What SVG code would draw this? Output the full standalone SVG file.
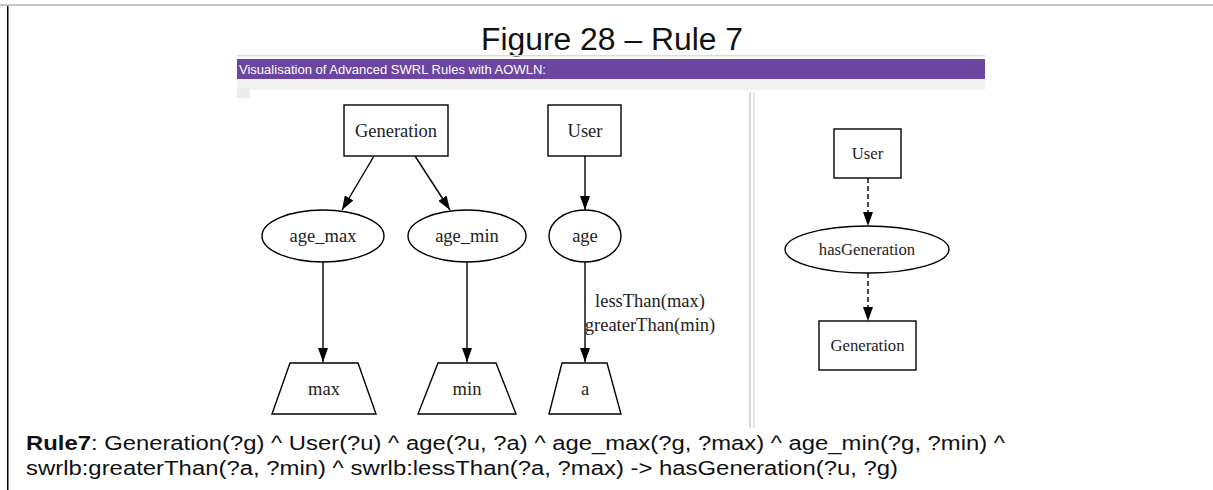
<svg xmlns="http://www.w3.org/2000/svg" width="1213" height="490" viewBox="0 0 1213 490">
  <style>
    .node { fill: #ffffff; stroke: #000000; stroke-width: 1.4; }
    .lbl { font-family: "Liberation Serif", "Times New Roman", serif; font-size: 18.5px; fill: #222222; text-anchor: middle; }
    .lbl-s { font-family: "Liberation Serif", "Times New Roman", serif; font-size: 16.7px; fill: #222222; text-anchor: middle; }
    .edge { fill: none; stroke: #000000; stroke-width: 1.4; marker-end: url(#arrow); }
    .dashed { stroke-dasharray: 5 3; }
    .sans { font-family: "Liberation Sans", Arial, sans-serif; fill: #111111; }
  </style>
  <defs>
    <marker id="arrow" markerUnits="userSpaceOnUse" markerWidth="14" markerHeight="10" refX="14" refY="5" orient="auto">
      <path d="M0,0 L14,5 L0,10 Z" fill="#000000"/>
    </marker>
  </defs>

  <!-- page frame -->
  <rect x="0" y="0" width="1213" height="490" fill="#ffffff"/>
  <rect x="0" y="4" width="1213" height="2" fill="#c4c4c4"/>
  <rect x="7" y="6" width="1.5" height="484" fill="#000000"/>

  <!-- caption -->
  <text class="sans" x="612" y="50" font-size="31" text-anchor="middle" textLength="262" lengthAdjust="spacingAndGlyphs">Figure 28 – Rule 7</text>

  <!-- application window -->
  <rect x="237" y="55" width="748" height="1.5" fill="#dcdcdc"/>
  <rect x="237" y="59" width="748" height="20" fill="#6b45a0"/>
  <text x="239" y="74" font-family="Liberation Sans, Arial, sans-serif" font-size="12.5" fill="#ffffff" textLength="307" lengthAdjust="spacingAndGlyphs">Visualisation of Advanced SWRL Rules with AOWLN:</text>
  <rect x="237" y="79" width="748" height="11" fill="#f4f2f0"/>
  <rect x="237" y="88" width="13" height="10" fill="#ececec"/>
  <rect x="749" y="92" width="2" height="336" fill="#d8d8d8"/>
  <rect x="753" y="92" width="2" height="336" fill="#e6e6e6"/>

  <!-- connectors -->
  <g id="connectors">
    <line class="edge" x1="374" y1="156" x2="342" y2="210"/>
    <line class="edge" x1="415" y1="156" x2="450" y2="210"/>
    <line class="edge" x1="585" y1="156" x2="585" y2="210"/>
    <line class="edge" x1="323" y1="262" x2="323" y2="362"/>
    <line class="edge" x1="467" y1="262" x2="467" y2="362"/>
    <line class="edge" x1="585" y1="262" x2="585" y2="362"/>
    <text class="lbl" x="650" y="307">lessThan(max)</text>
    <text class="lbl" x="650" y="331">greaterThan(min)</text>
    <line class="edge dashed" x1="868" y1="178" x2="868" y2="226"/>
    <line class="edge dashed" x1="868" y1="273" x2="868" y2="321"/>
  </g>

  <!-- left panel nodes -->
  <g id="node-generation">
    <rect class="node" x="344" y="105" width="104" height="51"/>
    <text class="lbl" x="396" y="137">Generation</text>
  </g>
  <g id="node-user">
    <rect class="node" x="548" y="105" width="73" height="51"/>
    <text class="lbl" x="585" y="137">User</text>
  </g>
  <g id="node-age-max">
    <ellipse class="node" cx="323" cy="236" rx="61" ry="26"/>
    <text class="lbl" x="323" y="242">age_max</text>
  </g>
  <g id="node-age-min">
    <ellipse class="node" cx="467" cy="236" rx="59" ry="26"/>
    <text class="lbl" x="467" y="242">age_min</text>
  </g>
  <g id="node-age">
    <ellipse class="node" cx="585" cy="236" rx="36" ry="26"/>
    <text class="lbl" x="585" y="242">age</text>
  </g>
  <g id="node-max">
    <polygon class="node" points="290,363 358,363 376,414 272,414"/>
    <text class="lbl" x="324" y="395">max</text>
  </g>
  <g id="node-min">
    <polygon class="node" points="438,363 496,363 516,414 418,414"/>
    <text class="lbl" x="467" y="395">min</text>
  </g>
  <g id="node-a">
    <polygon class="node" points="562,363 607,363 621,414 549,414"/>
    <text class="lbl" x="585" y="395">a</text>
  </g>

  <!-- right panel nodes -->
  <g id="node-user-r">
    <rect class="node" x="834" y="129" width="67" height="49"/>
    <text class="lbl-s" x="867.5" y="159">User</text>
  </g>
  <g id="node-hasgeneration">
    <ellipse class="node" cx="867" cy="249.5" rx="82" ry="23.5"/>
    <text class="lbl-s" x="867" y="255">hasGeneration</text>
  </g>
  <g id="node-generation-r">
    <rect class="node" x="819" y="321" width="97" height="49"/>
    <text class="lbl-s" x="867.5" y="351">Generation</text>
  </g>

  <!-- rule text -->
  <text class="sans" x="26" y="450" font-size="20" textLength="979" lengthAdjust="spacingAndGlyphs"><tspan font-weight="bold">Rule7</tspan>: Generation(?g) ^ User(?u) ^ age(?u, ?a) ^ age_max(?g, ?max) ^ age_min(?g, ?min) ^</text>
  <text class="sans" x="26" y="475" font-size="20" textLength="872" lengthAdjust="spacingAndGlyphs">swrlb:greaterThan(?a, ?min) ^ swrlb:lessThan(?a, ?max) -&gt; hasGeneration(?u, ?g)</text>
</svg>
